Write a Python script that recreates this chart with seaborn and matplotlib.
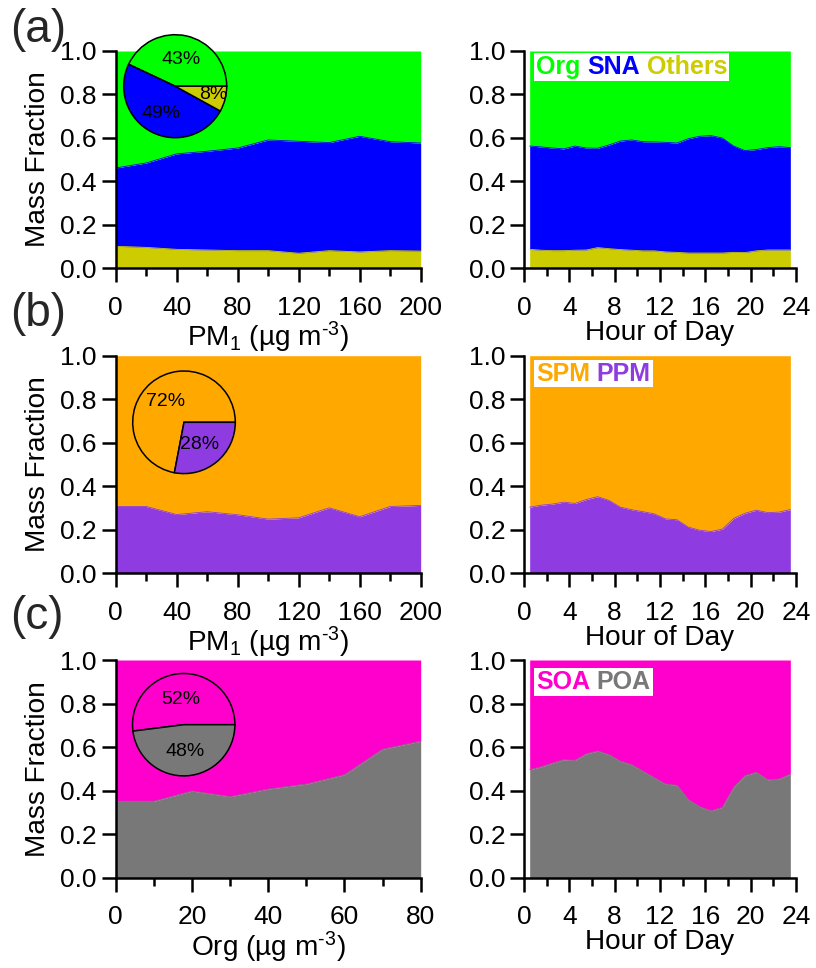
import numpy as np
import pandas as pd
import matplotlib
matplotlib.use("Agg")
import matplotlib.pyplot as plt
import seaborn as sns
from matplotlib.ticker import MultipleLocator
from matplotlib.offsetbox import AnchoredOffsetbox, HPacker, TextArea

# ---------------- data ----------------
pm1_bins = [0, 20, 40, 60, 80, 100, 120, 140, 160, 180, 200]
org_bins = [0, 10, 20, 30, 40, 50, 60, 70, 80]
hours = [0.5, 1.5, 2.5, 3.5, 4.5, 5.5, 6.5, 7.5, 8.5, 9.5, 10.5, 11.5,
         12.5, 13.5, 14.5, 15.5, 16.5, 17.5, 18.5, 19.5, 20.5, 21.5, 22.5, 23.5]

# (a) composition vs PM1
others_pm = [0.100, 0.095, 0.086, 0.083, 0.080, 0.080, 0.068, 0.080, 0.074, 0.080, 0.078]
sna_pm = [0.361, 0.389, 0.440, 0.455, 0.473, 0.510, 0.516, 0.498, 0.533, 0.502, 0.498]
org_pm = [0.539, 0.516, 0.474, 0.462, 0.447, 0.410, 0.416, 0.422, 0.393, 0.418, 0.424]
# (a) diurnal
others_hr = [0.086, 0.082, 0.080, 0.080, 0.082, 0.083, 0.094, 0.089, 0.085, 0.082, 0.079, 0.079,
             0.074, 0.072, 0.069, 0.069, 0.069, 0.069, 0.072, 0.071, 0.079, 0.083, 0.083, 0.083]
sna_hr = [0.476, 0.476, 0.473, 0.469, 0.480, 0.470, 0.458, 0.478, 0.500, 0.508, 0.503, 0.502,
          0.505, 0.504, 0.527, 0.538, 0.541, 0.530, 0.490, 0.470, 0.467, 0.472, 0.476, 0.472]
org_hr = [0.438, 0.442, 0.447, 0.451, 0.438, 0.447, 0.448, 0.433, 0.415, 0.410, 0.418, 0.419,
          0.421, 0.424, 0.404, 0.393, 0.390, 0.401, 0.438, 0.459, 0.454, 0.445, 0.441, 0.445]
pie_a = [43, 49, 8]  # Org, SNA, Others

# (b) PPM / SPM
ppm_pm = [0.307, 0.307, 0.270, 0.283, 0.269, 0.249, 0.255, 0.301, 0.260, 0.307, 0.312]
spm_pm = [0.693, 0.693, 0.730, 0.717, 0.731, 0.751, 0.745, 0.699, 0.740, 0.693, 0.688]
ppm_hr = [0.304, 0.313, 0.318, 0.327, 0.321, 0.339, 0.352, 0.335, 0.304, 0.292, 0.283, 0.273,
          0.250, 0.246, 0.212, 0.198, 0.192, 0.203, 0.252, 0.276, 0.290, 0.279, 0.281, 0.293]
spm_hr = [0.696, 0.687, 0.682, 0.673, 0.679, 0.661, 0.648, 0.665, 0.696, 0.708, 0.717, 0.727,
          0.750, 0.754, 0.788, 0.802, 0.808, 0.797, 0.748, 0.724, 0.710, 0.721, 0.719, 0.707]
pie_b = [72, 28]  # SPM, PPM

# (c) POA / SOA
poa_org = [0.351, 0.351, 0.398, 0.372, 0.407, 0.430, 0.473, 0.590, 0.627]
soa_org = [0.649, 0.649, 0.602, 0.628, 0.593, 0.570, 0.527, 0.410, 0.373]
poa_hr = [0.496, 0.509, 0.526, 0.542, 0.539, 0.569, 0.582, 0.565, 0.535, 0.519, 0.489, 0.459,
          0.430, 0.424, 0.358, 0.326, 0.307, 0.323, 0.415, 0.469, 0.484, 0.450, 0.453, 0.476]
soa_hr = [0.504, 0.491, 0.474, 0.458, 0.461, 0.431, 0.418, 0.435, 0.465, 0.481, 0.511, 0.541,
          0.570, 0.576, 0.642, 0.674, 0.693, 0.677, 0.585, 0.531, 0.516, 0.550, 0.547, 0.524]
pie_c = [52, 48]  # SOA, POA

# colours
C_ORG, C_SNA, C_OTH = "#00FF00", "#0000FF", "#CCCC00"
C_SPM, C_PPM = "#FFA800", "#8F3BE2"
C_SOA, C_POA = "#FF00CC", "#787878"

# ---------------- style ----------------
sns.set_theme(style="ticks")
plt.rcParams.update({
    "font.family": ["Liberation Sans", "DejaVu Sans"],
    "mathtext.fontset": "custom",
    "mathtext.rm": "Liberation Sans",
    "mathtext.it": "Liberation Sans:italic",
    "mathtext.bf": "Liberation Sans:bold",
    "mathtext.default": "regular",
    "axes.linewidth": 1.8,
    "axes.edgecolor": "black",
    "xtick.color": "black",
    "ytick.color": "black",
    "axes.labelcolor": "black",
})

TICK_FS = 19
LAB_FS = 20.2

W, H = 816, 968
fig = plt.figure(figsize=(W / 100, H / 100), dpi=100)


def rect(x0, top, w, h):
    return [x0 / W, 1 - (top + h) / H, w / W, h / H]


def style_axes(ax, xmax, major, minor, xlabel, ylabel=True):
    ax.set_xlim(0, xmax)
    ax.set_ylim(0, 1)
    ax.set_facecolor("white")
    for s in ["top", "right"]:
        ax.spines[s].set_visible(False)
    ax.xaxis.set_major_locator(MultipleLocator(major))
    ax.xaxis.set_minor_locator(MultipleLocator(minor))
    ax.yaxis.set_major_locator(MultipleLocator(0.2))
    ax.yaxis.set_minor_locator(plt.NullLocator())
    ax.yaxis.set_major_formatter(matplotlib.ticker.FormatStrFormatter("%.1f"))
    ax.tick_params(axis="both", which="major", direction="out", length=10, width=1.8,
                   labelsize=TICK_FS)
    ax.tick_params(axis="x", which="minor", direction="out", length=6, width=1.8)
    ax.tick_params(axis="x", which="major", pad=10)
    ax.tick_params(axis="y", which="major", pad=3.5)
    ax.set_xlabel(xlabel, fontsize=LAB_FS, labelpad=0)
    if ylabel:
        ax.set_ylabel("Mass Fraction", fontsize=LAB_FS, labelpad=7)
    else:
        ax.set_ylabel("")
    ax.grid(False)


def stacked(ax, x, layers, colors):
    base = np.zeros(len(x))
    for vals, c in zip(layers, colors):
        top = base + np.asarray(vals)
        ax.fill_between(x, base, top, color=c, linewidth=0, zorder=1)
        base = top
    # boundary lines drawn with seaborn
    base = np.zeros(len(x))
    for vals, c in list(zip(layers, colors))[:-1]:
        base = base + np.asarray(vals)
        sns.lineplot(x=x, y=base, color=c, linewidth=0.6, ax=ax, zorder=2)


def legend_box(ax, names, colors, y_off_px):
    boxes = [TextArea(n, textprops=dict(color=c, fontsize=18, fontweight="bold"))
             for n, c in zip(names, colors)]
    pack = HPacker(children=boxes, align="baseline", pad=0, sep=5)
    ab = AnchoredOffsetbox(loc="upper left", child=pack, pad=0.12, borderpad=0,
                           frameon=True,
                           bbox_to_anchor=(10 / 272, 1 - y_off_px / 217),
                           bbox_transform=ax.transAxes)
    ab.patch.set_facecolor("white")
    ab.patch.set_edgecolor("none")
    ab.patch.set_boxstyle("square", pad=0)
    ab.set_zorder(5)
    ax.add_artist(ab)


def pie_inset(cx, cy, r, values, colors, label_pos):
    rr = r * 1.04
    pax = fig.add_axes([(cx - rr) / W, 1 - (cy + rr) / H, 2 * rr / W, 2 * rr / H])
    pax.pie(values, colors=colors, startangle=0, counterclock=True, radius=1,
            wedgeprops=dict(edgecolor="black", linewidth=1.1))
    pax.set_xlim(-1.04, 1.04)
    pax.set_ylim(-1.04, 1.04)
    pax.set_aspect("equal")
    pax.axis("off")
    for v, (px, py) in zip(values, label_pos):
        pax.text(px, py, f"{v}%", fontsize=14, ha="center", va="center", color="black")
    return pax


PM_LABEL = r"PM$_1$ (µg m$^{\text{-3}}$)"
ORG_LABEL = r"Org (µg m$^{\text{-3}}$)"

# ---- row (a)
ax = fig.add_axes(rect(115.7, 51, 305, 217))
stacked(ax, pm1_bins, [others_pm, sna_pm, org_pm], [C_OTH, C_SNA, C_ORG])
style_axes(ax, 200, 40, 20, PM_LABEL)
pie_inset(175.2, 86.2, 51.5, pie_a, [C_ORG, C_SNA, C_OTH],
          [(0.115, 0.51), (-0.275, -0.525), (0.73, -0.17)])

ax = fig.add_axes(rect(524, 51, 272, 217))
stacked(ax, hours, [others_hr, sna_hr, org_hr], [C_OTH, C_SNA, C_ORG])
style_axes(ax, 24, 4, 2, "Hour of Day", ylabel=False)
legend_box(ax, ["Org", "SNA", "Others"], [C_ORG, C_SNA, C_OTH], 2)

# ---- row (b)
ax = fig.add_axes(rect(115.7, 355.7, 305, 217.6))
stacked(ax, pm1_bins, [ppm_pm, spm_pm], [C_PPM, C_SPM])
style_axes(ax, 200, 40, 20, PM_LABEL)
pie_inset(184, 422.3, 51.3, pie_b, [C_SPM, C_PPM],
          [(-0.36, 0.40), (0.31, -0.425)])

ax = fig.add_axes(rect(524, 355.7, 272, 217.6))
stacked(ax, hours, [ppm_hr, spm_hr], [C_PPM, C_SPM])
style_axes(ax, 24, 4, 2, "Hour of Day", ylabel=False)
legend_box(ax, ["SPM", "PPM"], [C_SPM, C_PPM], 4)

# ---- row (c)
ax = fig.add_axes(rect(115.7, 660, 305, 217.7))
stacked(ax, org_bins, [poa_org, soa_org], [C_POA, C_SOA])
style_axes(ax, 80, 20, 10, ORG_LABEL)
pie_inset(183.7, 724.7, 51.2, pie_c, [C_SOA, C_POA],
          [(-0.065, 0.50), (0.02, -0.52)])

ax = fig.add_axes(rect(524, 660, 272, 217.7))
stacked(ax, hours, [poa_hr, soa_hr], [C_POA, C_SOA])
style_axes(ax, 24, 4, 2, "Hour of Day", ylabel=False)
legend_box(ax, ["SOA", "POA"], [C_SOA, C_POA], 8)

# panel letters
for lab, top in [("(a)", 8), ("(b)", 292), ("(c)", 595)]:
    fig.text(10 / W, 1 - top / H, lab, fontsize=33, ha="left", va="top")

fig.savefig("out.png", dpi=100, facecolor="white")
